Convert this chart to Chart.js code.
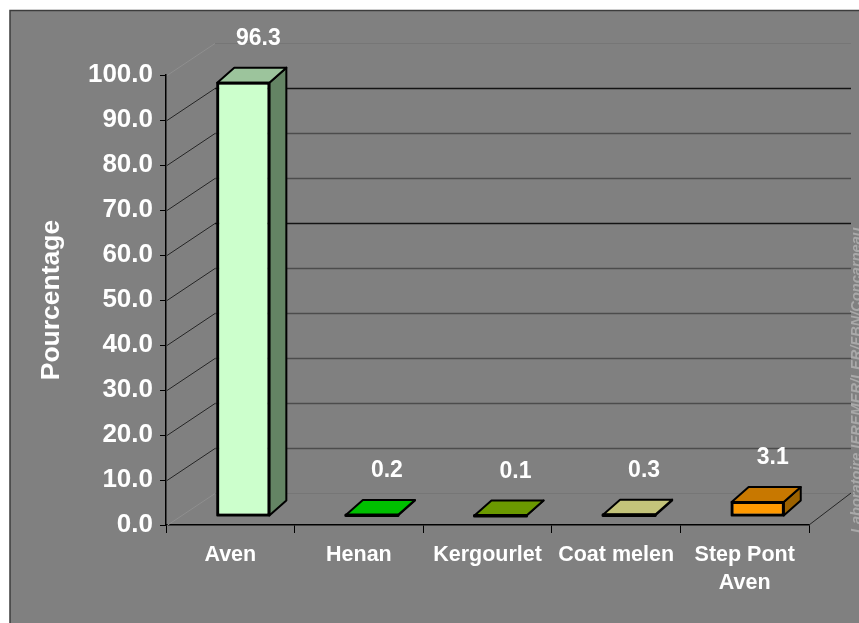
<!DOCTYPE html>
<html>
<head>
<meta charset="utf-8">
<script src="https://cdn.jsdelivr.net/npm/chart.js@4.4.1/dist/chart.umd.min.js"></script>
<style>
  html, body { margin: 0; padding: 0; background: #fff; }
  #c { display: block; }
</style>
</head>
<body>
<canvas id="c" width="859" height="623"></canvas>
<script>
/* ── data ── */
const sites     = ['Aven', 'Henan', 'Kergourlet', 'Coat melen', ['Step Pont', 'Aven']];
const pct       = [96.3, 0.2, 0.1, 0.3, 3.1];
const yMin      = 0;
const yMax      = 100;
const yStep     = 10;

// front / top / side shades of each box
const faceFront = ['#CCFFCC', '#00E000', '#80B300', '#D8D88A', '#FF9900'];
const faceTop   = ['#9CC49C', '#00C000', '#6B9900', '#C4C47A', '#C87800'];
const faceSide  = ['#648464', '#008C00', '#4D7000', '#98985A', '#9C6200'];

// ── fake 3D geometry (pixels) ──
const WALL_DX_L = 49, WALL_DX_R = 42, WALL_DY = -32;  // depth of the walls
const BAR_SHIFT_X = 13, BAR_SHIFT_Y = -9;              // bars sit a little into the depth
const BOX_DX = 17, BOX_DY = -15;                       // depth of each box

const threeD = {
  id: 'threeD',
  beforeDraw(chart) {
    const ctx = chart.ctx;
    ctx.save();
    ctx.fillStyle = '#ffffff';
    ctx.fillRect(0, 0, chart.width, chart.height);
    ctx.fillStyle = '#808080';
    ctx.fillRect(10, 11, chart.width - 10, chart.height - 11);
    ctx.strokeStyle = '#3c3c3c';
    ctx.lineWidth = 1.5;
    ctx.beginPath();
    ctx.moveTo(10, chart.height);
    ctx.lineTo(10, 10.5);
    ctx.lineTo(chart.width, 10.5);
    ctx.stroke();

    // watermark
    ctx.translate(861, 533);
    ctx.rotate(-Math.PI / 2);
    ctx.font = 'italic bold 14.6px "Liberation Sans", Arial, sans-serif';
    ctx.fillStyle = '#a9a9a9';
    ctx.textAlign = 'left';
    ctx.textBaseline = 'alphabetic';
    ctx.fillText('Laboratoire IFREMER/LER/FBN/Concarneau', 0, 0);
    ctx.restore();
  },
  beforeDatasetsDraw(chart) {
    const ctx = chart.ctx;
    const a = chart.chartArea;
    const ys = chart.scales.y;
    ctx.save();
    ctx.lineWidth = 1;
    ys.ticks.forEach(t => {
      const y = Math.round(ys.getPixelForValue(t.value)) + 0.5;
      const edge = t.value === yMin || t.value === yMax;
      // left wall
      ctx.strokeStyle = edge ? '#8e8e8e' : '#262626';
      ctx.beginPath();
      ctx.moveTo(a.left + 1, y);
      ctx.lineTo(a.left + WALL_DX_L, y + WALL_DY);
      ctx.stroke();
      // back wall
      ctx.strokeStyle = edge ? '#767676' : (t.value === 90 || t.value === 60 ? '#141414' : '#4c4c4c');
      ctx.lineWidth = edge ? 1 : 1.5;
      ctx.beginPath();
      ctx.moveTo(a.left + WALL_DX_L, y + WALL_DY);
      ctx.lineTo(a.right + WALL_DX_R, y + WALL_DY);
      ctx.stroke();
      ctx.lineWidth = 1;
    });
    // floor, right edge
    ctx.strokeStyle = '#262626';
    ctx.beginPath();
    ctx.moveTo(a.right, a.bottom);
    ctx.lineTo(a.right + WALL_DX_R, a.bottom + WALL_DY);
    ctx.stroke();
    ctx.restore();

    // bars are drawn pushed into the depth
    ctx.save();
    ctx.translate(BAR_SHIFT_X, BAR_SHIFT_Y);
  },
  afterDatasetsDraw(chart) {
    const ctx = chart.ctx;
    const meta = chart.getDatasetMeta(0);
    ctx.lineWidth = 2;
    ctx.lineJoin = 'round';
    ctx.strokeStyle = '#000';
    meta.data.forEach((el, i) => {
      const p = el.getProps(['x', 'y', 'base', 'width'], true);
      const xL = p.x - p.width / 2, xR = p.x + p.width / 2;
      const yT = Math.min(p.y, p.base), yB = Math.max(p.y, p.base);
      // side
      ctx.fillStyle = faceSide[i];
      ctx.beginPath();
      ctx.moveTo(xR, yT);
      ctx.lineTo(xR + BOX_DX, yT + BOX_DY);
      ctx.lineTo(xR + BOX_DX, yB + BOX_DY);
      ctx.lineTo(xR, yB);
      ctx.closePath();
      ctx.fill();
      ctx.stroke();
      // top
      ctx.fillStyle = faceTop[i];
      ctx.beginPath();
      ctx.moveTo(xL, yT);
      ctx.lineTo(xL + BOX_DX, yT + BOX_DY);
      ctx.lineTo(xR + BOX_DX, yT + BOX_DY);
      ctx.lineTo(xR, yT);
      ctx.closePath();
      ctx.fill();
      ctx.stroke();
      // front outline (thin boxes get a heavier edge)
      ctx.lineWidth = yB - yT < 3 ? 3 : 2;
      ctx.strokeRect(xL, yT, p.width, Math.max(yB - yT, 0.5));
      ctx.lineWidth = 2;
      // value label
      ctx.fillStyle = '#ffffff';
      ctx.font = 'bold 23px "Liberation Sans", Arial, sans-serif';
      ctx.textAlign = 'center';
      ctx.textBaseline = 'alphabetic';
      ctx.fillText(pct[i].toFixed(1), p.x + 15, yT + BOX_DY - 23);
    });
    ctx.restore();
  }
};

new Chart(document.getElementById('c'), {
  type: 'bar',
  data: {
    labels: sites,
    datasets: [{
      data: pct,
      backgroundColor: faceFront,
      borderColor: '#000',
      borderWidth: 2,
      borderSkipped: false,
      barPercentage: 0.405,
      categoryPercentage: 1,
    }],
  },
  options: {
    responsive: false,
    animation: false,
    devicePixelRatio: 1,
    layout: { padding: { top: 75, right: 50, bottom: 0, left: 0 } },
    plugins: {
      legend: { display: false },
      tooltip: { enabled: false },
    },
    scales: {
      x: {
        afterFit: s => { s.height = 98; },
        grid: { drawOnChartArea: false, drawTicks: true, tickLength: 8, color: '#000' },
        border: { display: true, color: '#000', width: 1.5 },
        ticks: {
          color: '#ffffff',
          maxRotation: 0,
          autoSkip: false,
          padding: 8,
          font: { family: '"Liberation Sans", Arial, sans-serif', size: 21.5, weight: 'bold', lineHeight: 1.3 },
        },
      },
      y: {
        min: yMin, max: yMax,
        afterFit: s => { s.width = 166; },
        grid: { drawOnChartArea: false, drawTicks: true, tickLength: 6, color: '#000' },
        border: { display: true, color: '#000', width: 1.5 },
        ticks: {
          stepSize: yStep,
          color: '#ffffff',
          padding: 7,
          callback: v => v.toFixed(1),
          font: { family: '"Liberation Sans", Arial, sans-serif', size: 26, weight: 'bold' },
        },
        title: {
          display: true,
          text: 'Pourcentage',
          color: '#ffffff',
          padding: { top: 36, bottom: 0 },
          font: { family: '"Liberation Sans", Arial, sans-serif', size: 26.5, weight: 'bold' },
        },
      },
    },
  },
  plugins: [threeD],
});
</script>
</body>
</html>
